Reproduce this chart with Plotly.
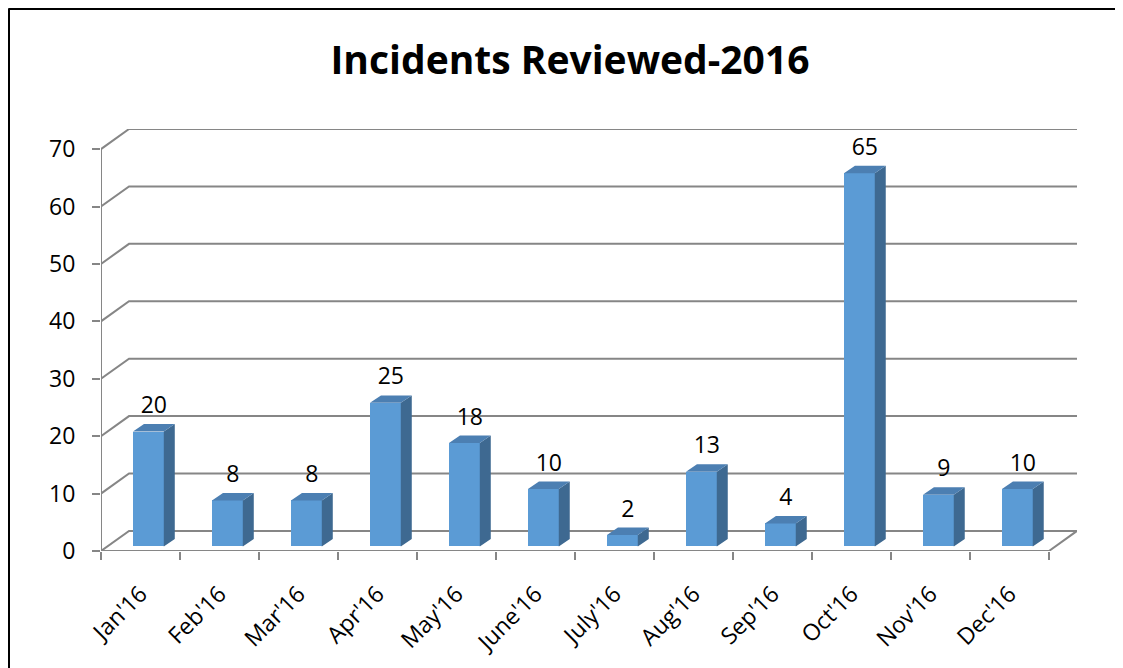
import plotly.graph_objects as go

# ---------------- data ----------------
months = ["Jan'16", "Feb'16", "Mar'16", "Apr'16", "May'16", "June'16",
          "July'16", "Aug'16", "Sep'16", "Oct'16", "Nov'16", "Dec'16"]
incidents = [20, 8, 8, 25, 18, 10, 2, 13, 4, 65, 9, 10]
y_ticks = [0, 10, 20, 30, 40, 50, 60, 70]
title_text = "Incidents Reviewed-2016"

# ---------------- style / pseudo-3D geometry (axis units) ----------------
W, H = 1123, 668
ML, MR, MT, MB = 93, 54, 121, 125
N = len(months)
WALL_DX, WALL_DY = 0.355, 3.5        # depth of back wall
BAR_OFF, BAR_W = 0.10, 0.39          # front face position in category
FRONT_DY = 0.8                       # bars stand a little behind front
SIDE_DX, SIDE_DY = 0.139, 1.3        # bar depth
LABEL_DY = 0.9
X_MIN, X_MAX = -0.5, N - 0.5 + WALL_DX
Y_MAX = y_ticks[-1] + WALL_DY

FRONT = "#5B9BD5"
SIDE = "#3E6991"
TOP = "#4C7FB2"
GRID = "#868686"
FONT = "Open Sans"

fig = go.Figure()

# walls: gridlines on left wall + back wall
gx, gy = [], []
for v in y_ticks:
    gx += [X_MIN, X_MIN + WALL_DX, N - 0.5 + WALL_DX, None]
    gy += [v, v + WALL_DY, v + WALL_DY, None]
# floor front edge and right edge
gx += [X_MIN, N - 0.5, N - 0.5 + WALL_DX, None]
gy += [y_ticks[0], y_ticks[0], y_ticks[0] + WALL_DY, None]
# front vertical axis
gx += [X_MIN, X_MIN]
gy += [y_ticks[0], y_ticks[-1]]
fig.add_trace(go.Scatter(x=gx, y=gy, mode="lines",
                         line=dict(color=GRID, width=2),
                         hoverinfo="skip", showlegend=False, zorder=0))

# bar front faces
xs = [i + BAR_OFF for i in range(N)]
fig.add_trace(go.Bar(x=xs, y=incidents, base=FRONT_DY, width=BAR_W,
                     marker=dict(color=FRONT, line=dict(width=0)),
                     showlegend=False, zorder=2))

# side and top faces
sx, sy, tx, ty = [], [], [], []
for i, v in enumerate(incidents):
    xl = xs[i] - BAR_W / 2
    xr = xs[i] + BAR_W / 2
    y0 = FRONT_DY
    y1 = v + FRONT_DY
    sx += [xr, xr + SIDE_DX, xr + SIDE_DX, xr, xr, None]
    sy += [y0, y0 + SIDE_DY, y1 + SIDE_DY, y1, y0, None]
    tx += [xl, xr, xr + SIDE_DX, xl + SIDE_DX, xl, None]
    ty += [y1, y1, y1 + SIDE_DY, y1 + SIDE_DY, y1, None]
fig.add_trace(go.Scatter(x=sx, y=sy, mode="lines", fill="toself",
                         fillcolor=SIDE, line=dict(width=0, color=SIDE),
                         hoverinfo="skip", showlegend=False, zorder=2))
fig.add_trace(go.Scatter(x=tx, y=ty, mode="lines", fill="toself",
                         fillcolor=TOP, line=dict(width=0, color=TOP),
                         hoverinfo="skip", showlegend=False, zorder=2))

# data labels
fig.add_trace(go.Scatter(
    x=[x + SIDE_DX / 2 for x in xs],
    y=[v + FRONT_DY + SIDE_DY + LABEL_DY for v in incidents],
    mode="text", text=[str(v) for v in incidents],
    textposition="top center",
    textfont=dict(family=FONT, size=23, color="black"),
    hoverinfo="skip", showlegend=False, zorder=3))

# outer chart border (left & top edges visible)
pw = W - ML - MR
ph = H - MT - MB
def px_x(p):
    return (p - ML) / pw
def px_y(p):
    return (H - MB - p) / ph
fig.add_shape(type="line", xref="paper", yref="paper",
              x0=px_x(0.5), x1=px_x(1140), y0=px_y(0.5), y1=px_y(0.5),
              line=dict(color="black", width=3))
fig.add_shape(type="line", xref="paper", yref="paper",
              x0=px_x(0.5), x1=px_x(0.5), y0=px_y(0.5), y1=px_y(700),
              line=dict(color="black", width=3))

fig.update_layout(
    width=W, height=H,
    margin=dict(l=ML, r=MR, t=MT, b=MB),
    paper_bgcolor="white", plot_bgcolor="white",
    font=dict(family=FONT, size=22, color="black"),
    title=dict(text="<b>" + title_text + "</b>", x=562 / W, xanchor="center",
               y=1 - 52 / H, yanchor="middle",
               font=dict(family=FONT, size=39, color="black")),
    bargap=0,
    xaxis=dict(range=[X_MIN, X_MAX], showgrid=False, zeroline=False,
               showline=False, tickmode="array",
               tickvals=list(range(N)), ticktext=months,
               ticks="", tickangle=-45, ticklabelstandoff=24,
               tickfont=dict(family=FONT, size=23, color="black"),
               minor=dict(tickmode="array",
                          tickvals=[i - 0.5 for i in range(N + 1)],
                          ticks="outside", ticklen=8, tickwidth=2,
                          tickcolor=GRID, showgrid=False),
               fixedrange=True),
    yaxis=dict(range=[0, Y_MAX], showgrid=False, zeroline=False,
               showline=False, tickmode="array", tickvals=y_ticks,
               ticks="outside", ticklen=8, tickwidth=2, tickcolor=GRID,
               ticklabelstandoff=12,
               tickfont=dict(family=FONT, size=23, color="black"),
               fixedrange=True),
)

fig.write_html("out.html")
